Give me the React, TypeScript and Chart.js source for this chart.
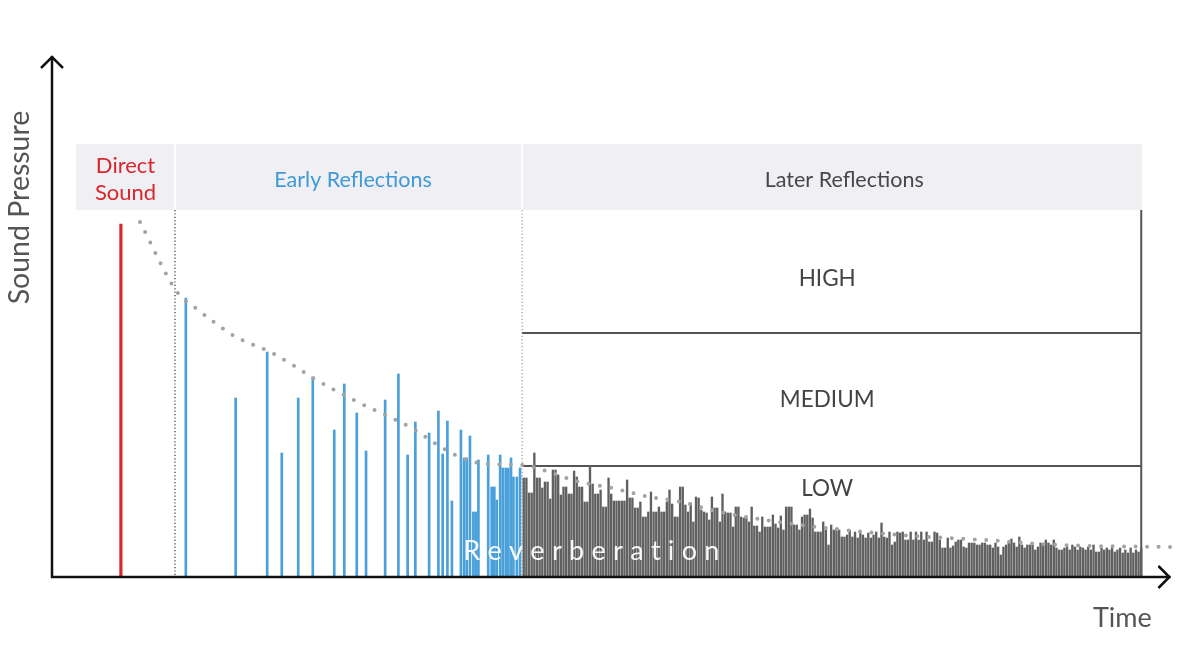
import React, { useEffect, useRef } from "react";
import { Chart, registerables } from "chart.js";

Chart.register(...registerables);

// ---------- data (time in ms, sound pressure in arbitrary units) ----------
const DIRECT_TIME = 26.0;
const DIRECT_LEVEL = 353;

const EARLY_TIMES = [
  50.5, 69.3, 81.2, 86.7, 92.9, 98.4, 106.5, 110.3, 115.0, 118.5, 125.7, 130.7,
  134.2, 137.1, 142.3, 145.8, 147.4, 149.2, 150.9, 154.3, 155.5, 156.5, 157.7,
  159.0, 159.9, 160.9, 164.6, 165.9, 166.9, 167.8, 169.1, 170.1, 171.2, 172.2,
  173.2, 174.1, 175.4, 176.6,
];
const EARLY_LEVELS = [
  279, 179, 225, 124, 179, 200, 147, 193, 164, 126, 177, 203,
  122, 155, 144, 166, 123, 156, 76, 147, 119, 119, 141,
  65, 65, 117, 122, 90, 90, 77, 122, 109, 109, 109,
  119, 100, 100, 109,
];

const LATE_START = 178;
const LATE_STEP = 1;
const LATE_LEVELS = [
  99, 99, 84, 84, 124, 99, 99, 89, 95, 95, 78, 107, 107, 102, 82, 90, 90, 83, 83, 106,
  100, 90, 90, 75, 75, 111, 93, 83, 83, 87, 70, 70, 99, 83, 76, 76, 76, 76, 76, 97,
  79, 79, 69, 69, 75, 60, 60, 65, 85, 65, 65, 70, 65, 65, 75, 87,
  73, 60, 60, 90, 90, 72, 65, 74, 55, 80, 79, 67, 65, 64, 57, 80, 69, 69, 55, 83,
  65, 64, 64, 50, 70, 70, 60, 59, 59, 55, 70, 51, 51, 45, 60, 50, 50, 50, 62, 53,
  49, 61, 47, 70, 70, 70, 52, 52, 47, 60, 62, 62, 68, 59, 45, 45, 45, 55, 47,
  32, 52, 47, 49, 47, 40, 40, 42, 47, 40, 45, 39, 44, 42, 39, 44, 39, 42, 45, 39,
  54, 40, 39, 45, 32, 35, 45, 44, 45, 37, 37, 45, 37, 45, 37, 45, 37, 45, 35, 35,
  45, 44, 37, 29, 29, 39, 29, 31, 35, 37, 37, 30, 29, 34, 34, 34, 32, 32, 34,
  34, 32, 32, 29, 34, 30, 22, 30, 32, 35, 38, 34, 30, 40, 32, 29, 32, 32, 32, 27,
  30, 34, 32, 37, 34, 32, 37, 29, 27, 27, 29, 30, 27, 32, 30, 27, 30, 29, 27, 30,
  27, 32, 25, 25, 29, 27, 29, 27, 30, 25, 27, 29, 24, 27, 24, 29, 24, 27, 25, 29,
];

const DECAY_TIMES = [
  33.2, 47.2, 54.7, 61.1, 69.4, 82.3, 90.9, 98.5, 108.7, 120, 128.3, 137, 144.9,
  154.7, 164.5, 177.4, 188.7, 197.7, 211.3, 223.8, 237.4, 252.1, 282.3, 320, 352.1,
  380.4, 424.5,
];
const DECAY_LEVELS = [
  355, 285, 268, 255, 240, 225, 212, 199, 184, 169, 159, 147, 133,
  119, 113, 112, 104, 96, 89, 81, 75, 65, 52, 42, 37,
  32, 30,
];

// section boundaries (ms) and labels
const SECTION_EDGES = [9.1, 46.4, 177.4, 411.0];
const SECTION_LABELS = [["Direct", "Sound"], ["Early Reflections"], ["Later Reflections"]];
const SECTION_LABEL_SHIFT = [0, 4.5, 12.5];
const SECTION_COLORS = ["#d8262c", "#3d9ad6", "#474747"];
const HEADER_BAND = [367, 433];
const BAND_LIMITS = [244, 111];
const BAND_LABELS = ["HIGH", "MEDIUM", "LOW"];
const BAND_LABEL_LEVELS = [298, 177, 88];
const REVERB_LABEL = "Reverberation";
const REVERB_TIME = 203.5;
const REVERB_LEVEL = 26;
const REVERB_SPAN = 96.6;
const X_MAX = 426;
const Y_MAX = 521;
const AXIS_END = 422;

const FONT = "Lato, 'Open Sans', sans-serif";

const diagramPlugin = {
  id: "diagram",
  beforeDatasetsDraw(chart: any) {
    const { ctx, scales } = chart;
    const x = scales.x;
    const y = scales.y;
    const px = (v: number) => x.getPixelForValue(v);
    const py = (v: number) => y.getPixelForValue(v);
    ctx.save();
    // header band
    const top = py(HEADER_BAND[1]);
    const bot = py(HEADER_BAND[0]);
    ctx.fillStyle = "#f0f0f4";
    ctx.fillRect(px(SECTION_EDGES[0]), top, px(SECTION_EDGES[3]) - px(SECTION_EDGES[0]) + 1, bot - top);
    ctx.fillStyle = "#ffffff";
    for (let i = 1; i < 3; i++) {
      ctx.fillRect(px(SECTION_EDGES[i]) - 1, top, 2, bot - top);
    }
    // header labels
    ctx.textAlign = "center";
    ctx.textBaseline = "middle";
    for (let i = 0; i < 3; i++) {
      const cx = (px(SECTION_EDGES[i]) + px(SECTION_EDGES[i + 1])) / 2 + SECTION_LABEL_SHIFT[i];
      const cy = (top + bot) / 2;
      const lines = SECTION_LABELS[i];
      ctx.fillStyle = SECTION_COLORS[i];
      ctx.font = lines.length > 1 ? `22px ${FONT}` : `21.5px ${FONT}`;
      const lh = 27;
      lines.forEach((t, k) => {
        const off = lines.length > 1 ? (k - (lines.length - 1) / 2) * lh + 2 : 3;
        ctx.fillText(t, cx, cy + off);
      });
    }
    // dotted section separators
    ctx.lineWidth = 1.2;
    ctx.setLineDash([1.2, 2.2]);
    ctx.strokeStyle = "#333";
    ctx.beginPath();
    ctx.moveTo(px(SECTION_EDGES[1]), bot);
    ctx.lineTo(px(SECTION_EDGES[1]), py(0));
    ctx.stroke();
    ctx.strokeStyle = "#9a9a9a";
    ctx.beginPath();
    ctx.moveTo(px(SECTION_EDGES[2]), bot);
    ctx.lineTo(px(SECTION_EDGES[2]), py(0));
    ctx.stroke();
    ctx.setLineDash([]);
    // right border + band limits
    ctx.strokeStyle = "#555";
    ctx.lineWidth = 2;
    ctx.beginPath();
    ctx.moveTo(px(SECTION_EDGES[3]), bot);
    ctx.lineTo(px(SECTION_EDGES[3]), py(0));
    BAND_LIMITS.forEach((b) => {
      ctx.moveTo(px(SECTION_EDGES[2]), py(b));
      ctx.lineTo(px(SECTION_EDGES[3]), py(b));
    });
    ctx.stroke();
    // band labels
    ctx.fillStyle = "#444";
    ctx.font = `22.5px ${FONT}`;
    const bcx = (px(SECTION_EDGES[2]) + px(SECTION_EDGES[3])) / 2 - 4.5;
    BAND_LABELS.forEach((t, i) => ctx.fillText(t, bcx, py(BAND_LABEL_LEVELS[i])));
    ctx.restore();
  },
  afterDatasetsDraw(chart: any) {
    const { ctx, scales } = chart;
    const x = scales.x;
    const y = scales.y;
    const px = (v: number) => x.getPixelForValue(v);
    const py = (v: number) => y.getPixelForValue(v);
    ctx.save();
    // Reverberation label with wide letter spacing
    ctx.font = `27px ${FONT}`;
    ctx.fillStyle = "rgba(255,255,255,0.95)";
    ctx.textBaseline = "middle";
    ctx.textAlign = "left";
    const chars = REVERB_LABEL.split("");
    const widths = chars.map((c) => ctx.measureText(c).width);
    const sum = widths.reduce((a, b) => a + b, 0);
    const span = px(REVERB_TIME + REVERB_SPAN / 2) - px(REVERB_TIME - REVERB_SPAN / 2);
    const spacing = (span - sum) / (chars.length - 1);
    let cx = px(REVERB_TIME) - span / 2;
    chars.forEach((c, i) => {
      ctx.fillText(c, cx, py(REVERB_LEVEL));
      cx += widths[i] + spacing;
    });
    // axes with arrows
    const x0 = px(0);
    const y0 = py(0);
    const yTop = py(Y_MAX);
    const xEnd = px(AXIS_END);
    ctx.strokeStyle = "#111";
    ctx.lineWidth = 2.5;
    ctx.lineCap = "butt";
    ctx.beginPath();
    ctx.moveTo(x0, yTop);
    ctx.lineTo(x0, y0);
    ctx.lineTo(xEnd, y0);
    ctx.stroke();
    ctx.beginPath();
    ctx.moveTo(x0 - 11, yTop + 12);
    ctx.lineTo(x0, yTop + 1);
    ctx.lineTo(x0 + 11, yTop + 12);
    ctx.moveTo(xEnd - 12, y0 - 11);
    ctx.lineTo(xEnd - 1, y0);
    ctx.lineTo(xEnd - 12, y0 + 11);
    ctx.stroke();
    // axis titles
    ctx.fillStyle = "#555";
    ctx.font = `27px ${FONT}`;
    ctx.textAlign = "center";
    ctx.textBaseline = "middle";
    ctx.fillText("Time", xEnd - 48, y0 + 41);
    ctx.font = `28.5px ${FONT}`;
    ctx.translate(x0 - 32, (yTop + y0) / 2 - 109);
    ctx.rotate(-Math.PI / 2);
    ctx.fillText("Sound Pressure", 0, 0);
    ctx.restore();
  },
};

export default function App() {
  const ref = useRef<HTMLCanvasElement | null>(null);
  useEffect(() => {
    if (!ref.current) return;
    const lateData = LATE_LEVELS.map((v, i) => ({ x: LATE_START + i * LATE_STEP, y: v }));
    const chart = new Chart(ref.current, {
      type: "bar",
      data: {
        datasets: [
          {
            type: "line",
            data: DECAY_TIMES.map((t, i) => ({ x: t, y: DECAY_LEVELS[i] })),
            borderColor: "#a3a3a3",
            borderWidth: 4,
            borderDash: [0, 11.5],
            borderCapStyle: "round",
            pointRadius: 0,
            tension: 0.4,
            cubicInterpolationMode: "monotone",
            fill: false,
            order: 0,
          } as any,
          {
            type: "bar",
            data: [{ x: DIRECT_TIME, y: DIRECT_LEVEL }],
            backgroundColor: "#d8262c",
            barThickness: 2.5,
            grouped: false,
            order: 1,
          } as any,
          {
            type: "bar",
            data: EARLY_TIMES.map((t, i) => ({ x: t, y: EARLY_LEVELS[i] })),
            backgroundColor: "#4aa0da",
            barThickness: 2,
            grouped: false,
            order: 1,
          } as any,
          {
            type: "bar",
            data: lateData,
            backgroundColor: "#606060",
            barThickness: 1.7,
            grouped: false,
            order: 1,
          } as any,
        ],
      },
      options: {
        animation: false,
        responsive: false,
        events: [],
        layout: { padding: { left: 52, top: 56, right: 9, bottom: 93 } },
        plugins: { legend: { display: false }, tooltip: { enabled: false } },
        scales: {
          x: { type: "linear", min: 0, max: X_MAX, offset: false, display: false },
          y: { type: "linear", min: 0, max: Y_MAX, display: false },
        },
      },
      plugins: [diagramPlugin],
    });
    return () => chart.destroy();
  }, []);
  return (
    <div style={{ position: "fixed", left: 0, top: 0, width: 1190, height: 670, background: "#fff" }}>
      <canvas ref={ref} width={1190} height={670} style={{ width: 1190, height: 670, display: "block" }} />
    </div>
  );
}
